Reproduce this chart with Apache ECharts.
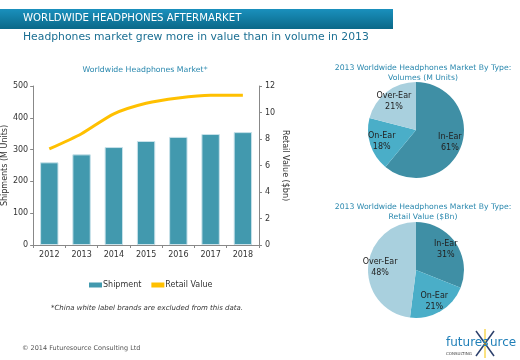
<!DOCTYPE html>
<html><head><meta charset="utf-8">
<script src="https://cdn.jsdelivr.net/npm/echarts@6/dist/echarts.min.js"></script>
<style>html,body{margin:0;padding:0;background:#fff}#c{width:520px;height:360px}</style>
</head><body><div id="c"></div>
<script>
var years = ['2012','2013','2014','2015','2016','2017','2018'];
var shipments = [260, 285, 308, 327, 340, 349, 355];
var retailValue = [7.25, 8.4, 9.9, 10.7, 11.1, 11.3, 11.3];
var pieTypes = ['In-Ear', 'On-Ear', 'Over-Ear'];
var volumeShare = [61, 18, 21];
var valueShare = [31, 21, 48];
var leftTicks = [0, 100, 200, 300, 400, 500];
var rightTicks = [0, 2, 4, 6, 8, 10, 12];

var FONT = 'DejaVu Sans';
var pieColors = ['#3f8fa5', '#4aaec8', '#a9d0de'];
function pieData(vals){ return pieTypes.map(function(n,i){ return {name:n, value:vals[i], itemStyle:{color:pieColors[i]}}; }); }
function pieSeries(vals, cy){
  return [{
    type:'pie', center:[416, cy], radius:[0, 48], startAngle:90, clockwise:true,
    label:{show:false}, labelLine:{show:false}, silent:true,
    itemStyle:{borderWidth:0},
    data: pieData(vals)
  },{
    type:'pie', center:[416, cy], radius:[18, 48], startAngle:90, clockwise:true, silent:true,
    itemStyle:{color:'rgba(0,0,0,0)'},
    label:{show:true, position:'inner', formatter:'{b}\n{d}%', fontFamily:FONT, fontSize:8, color:'#222', lineHeight:11},
    labelLine:{show:false},
    data: pieTypes.map(function(n,i){ return {name:n, value:vals[i]}; })
  }];
}

var chart = echarts.init(document.getElementById('c'), null, {renderer:'canvas'});
var option = {
  animation:false,
  textStyle:{fontFamily:FONT},
  title:[
    {text:'Worldwide Headphones Market*', left:140, textAlign:'center', top:61, textStyle:{fontFamily:FONT, fontSize:7.8, fontWeight:'normal', color:'#2a88ae'}},
    {text:'2013 Worldwide Headphones Market By Type:\nVolumes (M Units)', left:418, textAlign:'center', top:58, textStyle:{fontFamily:FONT, fontSize:7.7, fontWeight:'normal', color:'#2a88ae', lineHeight:10}},
    {text:'2013 Worldwide Headphones Market By Type:\nRetail Value ($Bn)', left:418, textAlign:'center', top:197, textStyle:{fontFamily:FONT, fontSize:7.7, fontWeight:'normal', color:'#2a88ae', lineHeight:10}}
  ],
  legend:{
    left:84, top:276, itemWidth:13, itemHeight:5, itemGap:10,
    textStyle:{fontFamily:FONT, fontSize:8, color:'#333', padding:[0,0,0,-4]},
    data:[{name:'Shipment', icon:'rect', itemStyle:{color:'#4299ae', borderWidth:0}},
          {name:'Retail Value', icon:'rect', itemStyle:{color:'#ffc000', borderWidth:0}}]
  },
  grid:{left:33, right:261, top:86, bottom:115},
  xAxis:{
    type:'category', data:years, boundaryGap:true,
    axisLine:{lineStyle:{color:'#888'}}, axisTick:{show:true, length:3, lineStyle:{color:'#888'}},
    axisLabel:{fontFamily:FONT, fontSize:8, color:'#333', margin:6}
  },
  yAxis:[{
    type:'value', min:leftTicks[0], max:leftTicks[leftTicks.length-1], interval:100,
    name:'Shipments (M Units)', nameLocation:'middle', nameGap:24,
    nameTextStyle:{fontFamily:FONT, fontSize:8, color:'#333'},
    axisLine:{show:true, lineStyle:{color:'#888'}}, axisTick:{show:true, length:3, lineStyle:{color:'#888'}},
    splitLine:{show:false},
    axisLabel:{fontFamily:FONT, fontSize:8, color:'#333', margin:5}
  },{
    type:'value', min:rightTicks[0], max:rightTicks[rightTicks.length-1], interval:2, position:'right',
    name:'Retail Value ($bn)', nameLocation:'middle', nameGap:22, nameRotate:-90,
    nameTextStyle:{fontFamily:FONT, fontSize:8, color:'#333'},
    axisLine:{show:true, lineStyle:{color:'#888'}}, axisTick:{show:true, length:3, lineStyle:{color:'#888'}},
    splitLine:{show:false},
    axisLabel:{fontFamily:FONT, fontSize:8, color:'#333', margin:6}
  }],
  series:[{
    name:'Shipment', type:'bar', data:shipments, barWidth:'57%', yAxisIndex:0,
    itemStyle:{color:'#4299ae', borderColor:'#c8e2ea', borderWidth:1}
  },{
    name:'Retail Value', type:'line', data:retailValue, yAxisIndex:1, symbol:'none', smooth:0.25,
    lineStyle:{color:'#ffc000', width:3}, itemStyle:{color:'#ffc000'}
  }].concat(pieSeries(volumeShare, 130)).concat(pieSeries(valueShare, 270)),
  graphic:[
    {type:'rect', shape:{x:0, y:9, width:393, height:20}, style:{fill:new echarts.graphic.LinearGradient(0,0,0,1,[{offset:0,color:'#1a90bd'},{offset:1,color:'#0a6888'}])}},
    {type:'text', x:23, y:13, style:{text:'WORLDWIDE HEADPHONES AFTERMARKET', fill:'#ffffff', font:'10.2px "DejaVu Sans"'}},
    {type:'text', x:23, y:32, style:{text:'Headphones market grew more in value than in volume in 2013', fill:'#1b6f93', font:'10.8px "DejaVu Sans"'}},
    {type:'text', x:147, y:305, style:{text:'*China white label brands are excluded from this data.', fill:'#333', font:'italic 7px "DejaVu Sans"', textAlign:'center'}},
    {type:'text', x:22, y:345, style:{text:'\u00a9 2014 Futuresource Consulting Ltd', fill:'#555', font:'6.5px "DejaVu Sans"'}},
    {type:'line', shape:{x1:476, y1:331, x2:494, y2:356}, style:{stroke:'#2b3f6b', lineWidth:1.5}},
    {type:'line', shape:{x1:494, y1:331, x2:476, y2:356}, style:{stroke:'#2b3f6b', lineWidth:1.5}},
    {type:'line', shape:{x1:485, y1:329, x2:485, y2:358}, style:{stroke:'#f5c400', lineWidth:1}},
    {type:'text', x:446, y:337, style:{text:'futures', fill:'#1f7fb8', font:'12px "DejaVu Sans"'}},
    {type:'text', x:490, y:337, style:{text:'urce', fill:'#1f7fb8', font:'12px "DejaVu Sans"'}},
    {type:'text', x:446, y:352, style:{text:'CONSULTING', fill:'#444', font:'4px "DejaVu Sans"'}}
  ]
};
chart.setOption(option);
</script></body></html>
